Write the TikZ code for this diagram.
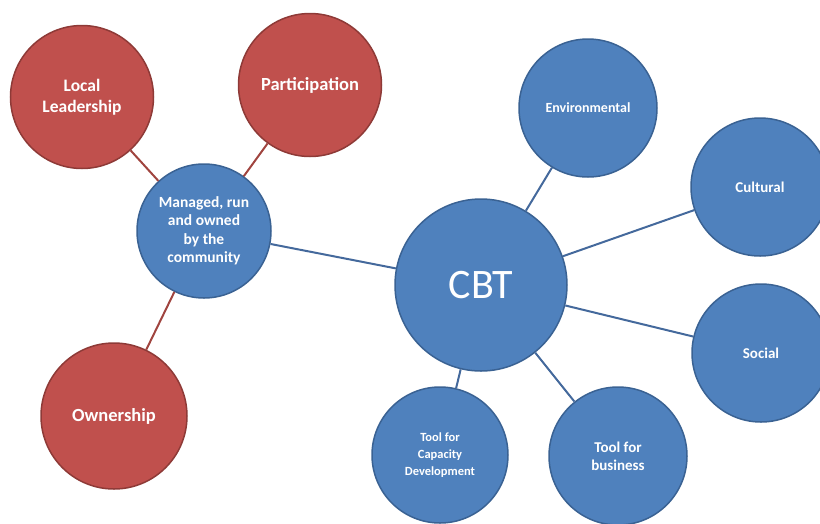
\documentclass[tikz,border=0pt]{standalone}
\usepackage{fontspec}
\setmainfont{Carlito}
\definecolor{cbtblue}{HTML}{4F81BD}
\definecolor{cbtedge}{HTML}{3A6293}
\definecolor{cbtred}{HTML}{C0504D}
\definecolor{rededge}{HTML}{8E3A37}
\definecolor{linkblue}{HTML}{44699C}
\definecolor{linkred}{HTML}{A0443F}
\tikzset{
    bubble/.style={circle, draw=cbtedge, fill=cbtblue, line width=1.5pt, inner sep=0pt, text=white, align=center},
    redbubble/.style={bubble, draw=rededge, fill=cbtred, minimum size=143pt, font=\bfseries\fontsize{17.5}{21}\selectfont},
    bluebubble/.style={bubble, minimum size=138pt, font=\bfseries\fontsize{15}{18}\selectfont},
    link/.style={draw=linkblue, line width=2pt},
    redlink/.style={draw=linkred, line width=2pt},
    common settings/.style={x=1pt, y=-1pt}
}

\begin{document}
\begin{tikzpicture}[common settings]
    \useasboundingbox (0,0) rectangle (820,523);

    % Centre and the community node
    \node[bubble, minimum size=172pt, font=\fontsize{42}{50}\selectfont] (cbt) at (481,285) {CBT};
    \node[bubble, minimum size=134pt, font=\bfseries\fontsize{15.5}{18.5}\selectfont] (community) at (204,231) {Managed, run\\and owned\\by the\\community};

    % Red satellites
    \node[redbubble] (leadership) at (82,97) {Local\\Leadership};
    \node[redbubble, font=\bfseries\fontsize{18.5}{22}\selectfont] (participation) at (310,85) {Participation};
    \node[redbubble, minimum size=146pt, font=\bfseries\fontsize{18.5}{22}\selectfont] (ownership) at (114,416) {Ownership};

    % Blue satellites
    \node[bluebubble, font=\bfseries\fontsize{14}{17}\selectfont] (environmental) at (588,108) {Environmental};
    \node[bluebubble] (cultural) at (760,187) {Cultural};
    \node[bluebubble] (social) at (761,353) {Social};
    \node[bluebubble, minimum size=136pt, font=\bfseries\fontsize{12.5}{17}\selectfont] (capacity) at (440,455) {Tool for\\Capacity\\Development};
    \node[bluebubble] (business) at (618,456) {Tool for\\business};

    % Connectors
    \draw[redlink] (leadership) -- (community);
    \draw[redlink] (participation) -- (community);
    \draw[redlink] (ownership) -- (community);
    \draw[link] (community) -- (cbt);
    \foreach \s in {environmental, cultural, social, capacity, business}
        \draw[link] (cbt) -- (\s);
\end{tikzpicture}
\end{document}
